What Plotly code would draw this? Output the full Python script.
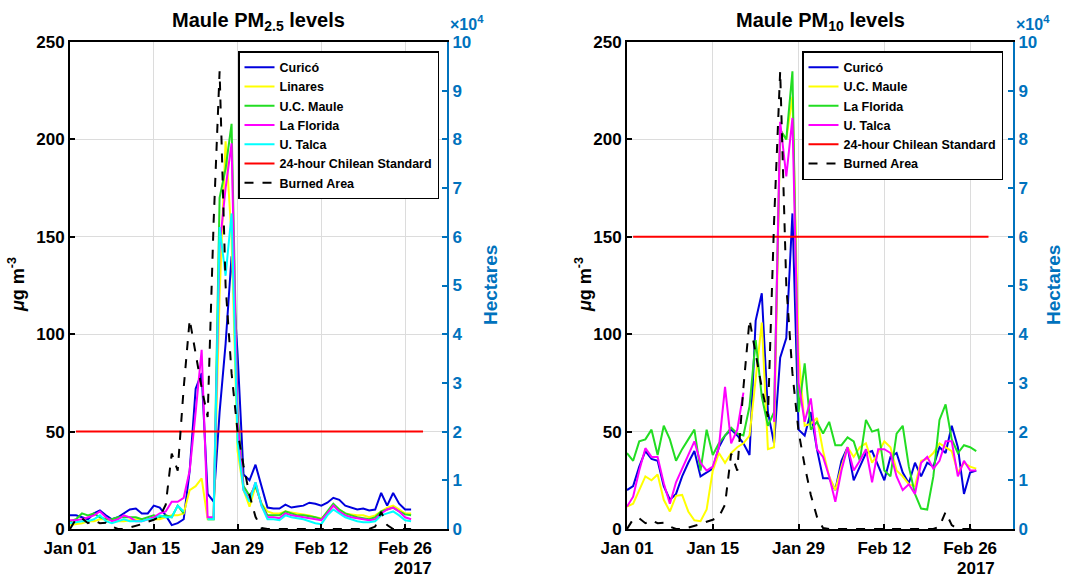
import plotly.graph_objects as go
import pandas as pd

# ---------------- data ----------------
start_date = "2017-01-01"

# PM2.5 (ug/m3), daily from Jan 01
pm25_curico = [7, 7, 6, 5, 8, 9.5, 7, 5, 6, 8, 10, 10.5, 8, 8, 12, 11, 7, 2, 3, 5,
               30, 72, 80, 18, 14, 60, 95, 140, 90, 28, 25, 33, 22, 11, 10.5, 10.5, 12.5, 11, 11.5, 12,
               13.5, 13, 12, 13.5, 16, 15, 12, 11, 10, 10.5, 9.5, 10, 18.5, 12, 18.5, 13, 10, 10]
pm25_linares = [2, 2.5, 3, 4, 4, 5, 5, 4.5, 4, 4, 4.5, 5, 5, 5, 5, 5, 6, 7, 7, 8,
                20, 22, 26, 5, 5, 120, 199, 150, 40, 20, 11.5, 22, 13, 9, 8, 8, 9, 8.5, 8, 7.5,
                7, 6, 5.5, 8, 12, 10, 8, 7.5, 7, 7, 6, 7, 9, 11, 12, 10, 8, 8]
pm25_ucmaule = [4, 5, 8, 7, 8, 6, 5, 5, 6, 6, 6, 6, 5, 6, 7, 6, 7, 6, 12, 8,
                None, None, None, 5, 5, 170, 185, 208, 60, 22, 17, 22, 13, 7, 7, 7, 9, 8, 7, 7,
                6.5, 6, 5, 9, 13, 10, 8, 7, 6, 5.5, 5, 6, 9, 10, 11, 9, 7.5, 7]
pm25_laflorida = [4.5, 4.5, 5, 6, 7, 9, 6, 4, 5, 7, 6, 4, 4, 5, 6, 8, 9, 14, 14, 16,
                  30, 60, 92, 6, 6, 145, 175, 198, 55, 20, 15, 24, 12, 6, 6, 5.5, 8, 7, 6.5, 6,
                  5.5, 5, 4.5, 8, 12, 9, 7, 6, 5.5, 5, 4.5, 5, 8, 10, 11, 9, 6, 5]
pm25_utalca = [3, 3.5, 4, 4, 5, 7, 4, 3, 4, 5, 4, 4, 4, 5, 5, 7, 6, 6, 12, 9,
               None, None, None, 5, 5, 155, 130, 162, 45, 20, 14, 24, 12, 5, 5, 4.5, 7, 6, 5.5, 5,
               4, 3, 2.5, 7, 10, 8, 6, 5, 4, 3.5, 3.5, 4, 7, 8, 9, 7, 4.5, 4]

# PM10 (ug/m3), daily from Jan 01
pm10_curico = [20, 22, 32, 40, 36, 35, 22, 15, 18, 27, 34, 40, 27, 29, 31, 42, 48, 51, 48, 44,
               38, 107, 121, 60, 44, 88, 98, 162, 51, 48, 60, 41, 26, 26, 20, 35, 42, 25, 32, 39,
               40, 32, 25, 37, 39, 29, 23.5, 34, 27, 34, 32, 42, 39, 53, 42, 18, 29, 30]
pm10_ucmaule = [11.5, 13, 20, 27, 25, 28, 15, 9, 17, 17.5, 9, 4.5, 4, 10, 30, 39, 34, 39, 42, 44,
                48, 78, 106, 41, 42, 205, 200, 222, 90, 53, 54, 57, 40, 27, 20, 32, 42, 37, 42, 44,
                34, 39, 45, 42, 30, 27, 23, 22, 35, 36, 39, 44, 42, 40, 29, 34, 32, 31]
pm10_laflorida = [39, 35, 45, 46, 51, 38, 53, 46, 35, 41, 46, 51, 30, 51, 38, 44, 48, 52, 49, 48,
                  63, 97, 68, 53, 60, 205, 200, 235, 60, 85, 51, 55, 49, 55, 43, 43, 47, 45, 35, 56,
                  50, 51, 30, 27, 49, 53, 32, 18, 10.5, 10, 27, 56, 64, 46, 39, 43, 42, 40]
pm10_utalca = [11.5, 16.6, 30, 41.5, 37, 37, 23.5, 13, 24, 31, 38, 45, 34, 30, 32, 42, 73, 44, 51, 70,
               None, None, None, None, 55, 209, 181, 211, 75, 55, 67, 41, 37, 27, 14, 30, 42, 30, 35, 41,
               24, 41, 41, 39, 27, 20, 23, 18, 34, 37, 31, 35, 45, 45, 27, 35, 30, 30]

# Burned area (hectares), daily from Jan 01
burned_area = [0, 2000, 2200, 1200, 1800, 1200, 1300, 500, 0, 0, 300, 600, 1000, 1500, 1900, 2500, 5000, 15500, 12000, 29000,
               43000, 36000, 29000, 23000, 63000, 94000, 50000, 32000, 20000, 13000, 7000, 2500, 200, 0, 0, 0, 0, 0, 0, 0,
               0, 0, 0, 0, 0, 0, 0, 0, 0, 0, 0, 500, 3500, 800, 0, 0, 0, 0]

# 24-hour Chilean standards
standard_dates = ["2017-01-02", "2017-03-01"]
standard_pm25 = [50, 50]
standard_pm10 = [150, 150]

# axis ticks
x_tickvals = ["2017-01-01", "2017-01-15", "2017-01-29", "2017-02-12", "2017-02-26"]
x_ticktext = ["Jan 01", "Jan 15", "Jan 29", "Feb 12", "Feb 26"]
x_range = ["2017-01-01", "2017-03-05"]
y_tickvals = [0, 50, 100, 150, 200, 250]
ha_tickvals = [0, 10000, 20000, 30000, 40000, 50000, 60000, 70000, 80000, 90000, 100000]
ha_ticktext = ["0", "1", "2", "3", "4", "5", "6", "7", "8", "9", "10"]

dates = pd.date_range(start_date, periods=len(pm25_curico), freq="D")

# ---------------- style ----------------
BLUE_AX = "#0072BD"
C_BLUE = "#0000DD"
C_YEL = "#FFFF00"
C_GRN = "#22DD22"
C_MAG = "#FF00FF"
C_CYA = "#00FFFF"
C_RED = "#FF0000"
FONT = "Liberation Sans, Arial, sans-serif"
W, H = 1071, 579

fig = go.Figure()

def add_line(x, y, name, color, xa, ya, leg, dash=None, width=2):
    fig.add_trace(go.Scatter(
        x=x, y=y, name=name, mode="lines", xaxis=xa, yaxis=ya, legend=leg,
        line=dict(color=color, width=width, dash=dash),
        connectgaps=False, hoverinfo="skip"))

# left panel
add_line(dates, pm25_curico, "Curicó", C_BLUE, "x", "y", "legend")
add_line(dates, pm25_linares, "Linares", C_YEL, "x", "y", "legend")
add_line(dates, pm25_ucmaule, "U.C. Maule", C_GRN, "x", "y", "legend")
add_line(dates, pm25_laflorida, "La Florida", C_MAG, "x", "y", "legend")
add_line(dates, pm25_utalca, "U. Talca", C_CYA, "x", "y", "legend")
add_line(standard_dates, standard_pm25, "24-hour Chilean Standard", C_RED, "x", "y", "legend")
add_line(dates, burned_area, "Burned Area", "#000000", "x", "y2", "legend", dash="dash")

# right panel
add_line(dates, pm10_curico, "Curicó", C_BLUE, "x2", "y3", "legend2")
add_line(dates, pm10_ucmaule, "U.C. Maule", C_YEL, "x2", "y3", "legend2")
add_line(dates, pm10_laflorida, "La Florida", C_GRN, "x2", "y3", "legend2")
add_line(dates, pm10_utalca, "U. Talca", C_MAG, "x2", "y3", "legend2")
add_line(standard_dates, standard_pm10, "24-hour Chilean Standard", C_RED, "x2", "y3", "legend2")
add_line(dates, burned_area, "Burned Area", "#000000", "x2", "y4", "legend2", dash="dash")

ydom = [1 - 529 / H, 1 - 42 / H]
xdom1 = [70 / W, 447 / W]
xdom2 = [627 / W, 1013 / W]

def xaxis(dom, anchor):
    return dict(domain=dom, anchor=anchor, type="date", range=x_range,
                tickvals=x_tickvals, ticktext=x_ticktext, ticks="inside", ticklen=5,
                tickwidth=1.5, tickcolor="#000", showline=True, linecolor="#000", linewidth=2,
                mirror=True, showgrid=True, gridcolor="#dcdcdc", gridwidth=1, zeroline=False,
                ticklabelstandoff=3,
                tickfont=dict(size=17, color="#000", family=FONT, weight="bold"), automargin=False)

def yleft(dom, anchor):
    return dict(domain=dom, anchor=anchor, range=[0, 250], tickvals=y_tickvals,
                ticks="inside", ticklen=5, tickwidth=1.5, tickcolor="#000",
                showline=True, linecolor="#000", linewidth=2, showgrid=True,
                gridcolor="#dcdcdc", gridwidth=1, zeroline=False,
                tickfont=dict(size=17, color="#000", family=FONT, weight="bold"), automargin=False)

def yright(anchor, over):
    return dict(anchor=anchor, overlaying=over, side="right", range=[0, 100000],
                tickvals=ha_tickvals, ticktext=ha_ticktext, ticks="inside", ticklen=5,
                tickwidth=1.5, tickcolor=BLUE_AX, showline=True, linecolor=BLUE_AX, linewidth=2,
                showgrid=False, zeroline=False,
                tickfont=dict(size=17, color=BLUE_AX, family=FONT, weight="bold"), automargin=False)

def legend(xr):
    return dict(x=xr, y=1 - 51 / H, xanchor="right", yanchor="top", bgcolor="#ffffff",
                bordercolor="#000", borderwidth=1.5, traceorder="normal",
                itemwidth=30, font=dict(size=12.5, color="#000", family=FONT, weight="bold"))

fig.update_layout(
    width=W, height=H, margin=dict(l=0, r=0, t=0, b=0),
    paper_bgcolor="#ffffff", plot_bgcolor="#ffffff",
    font=dict(family=FONT, color="#000", weight="bold"),
    xaxis=xaxis(xdom1, "y"), yaxis=yleft(ydom, "x"), yaxis2=yright("x", "y"),
    xaxis2=xaxis(xdom2, "y3"), yaxis3=yleft(ydom, "x2"), yaxis4=yright("x2", "y3"),
    legend=legend(439 / W), legend2=legend(1003 / W),
    showlegend=True,
)

ann = []
def a(text, x, y, size, color="#000", angle=0, xanchor="center", yanchor="middle"):
    ann.append(dict(text=text, x=x / W, y=1 - y / H, xref="paper", yref="paper",
                    showarrow=False, textangle=angle, xanchor=xanchor, yanchor=yanchor,
                    font=dict(size=size, color=color, family=FONT, weight="bold")))

a("Maule PM<sub>2.5</sub> levels", 258.5, 22, 20)
a("Maule PM<sub>10</sub> levels", 820, 22, 20)
a("<i>μ</i>g m<sup>-3</sup>", 16, 285, 18, angle=-90)
a("<i>μ</i>g m<sup>-3</sup>", 583, 285, 18, angle=-90)
a("Hectares", 490, 285, 19, BLUE_AX, -90)
a("Hectares", 1053, 285, 19, BLUE_AX, -90)
a("×10<sup>4</sup>", 448, 35, 16, BLUE_AX, xanchor="left", yanchor="bottom")
a("×10<sup>4</sup>", 1014, 35, 16, BLUE_AX, xanchor="left", yanchor="bottom")
a("2017", 413, 568, 17)
a("2017", 976, 568, 17)
fig.update_layout(annotations=ann)

fig.write_html("out.html")
